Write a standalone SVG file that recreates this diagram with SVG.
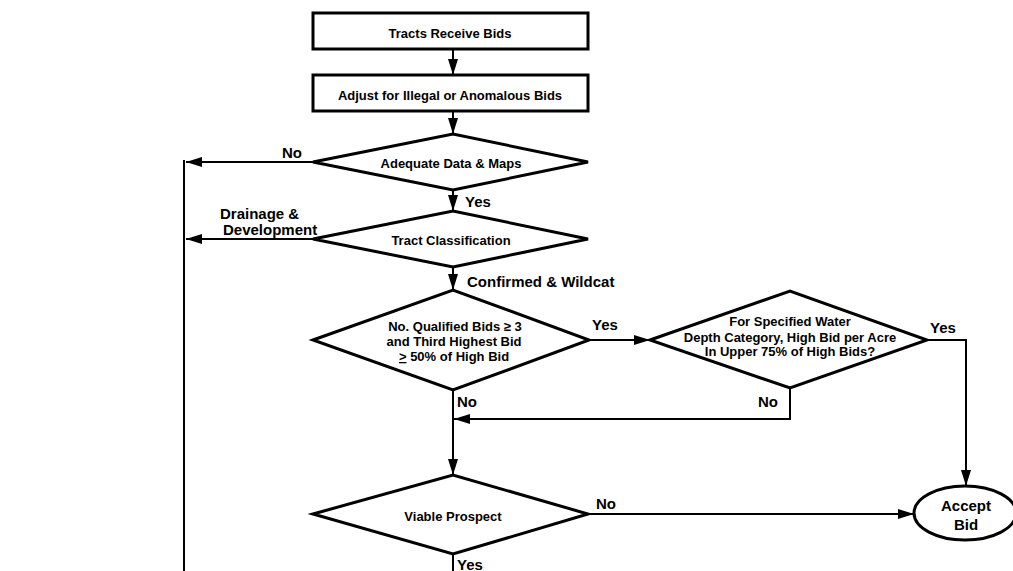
<svg xmlns="http://www.w3.org/2000/svg" width="1013" height="571" viewBox="0 0 1013 571">
<style>
.shape{fill:#fff;stroke:#000;stroke-width:3;stroke-linejoin:miter}
.conn{fill:none;stroke:#000;stroke-width:2}
.t{font-family:"Liberation Sans",Arial,sans-serif;font-weight:bold;font-size:13px;fill:#000;text-anchor:middle}
.lbl{font-family:"Liberation Sans",Arial,sans-serif;font-weight:bold;font-size:15px;fill:#000}
.big{font-family:"Liberation Sans",Arial,sans-serif;font-weight:bold;font-size:15px;fill:#000;text-anchor:middle}
</style>
<defs>
<marker id="ah" viewBox="0 0 16 10" refX="16" refY="5" markerWidth="16" markerHeight="10" markerUnits="userSpaceOnUse" orient="auto">
<path d="M0,0 L16,5 L0,10 Z" fill="#000"/>
</marker>
</defs>
<rect width="1013" height="571" fill="#fff"/>
<g id="connectors">
<line class="conn" x1="453" y1="49" x2="453" y2="75" marker-end="url(#ah)"/>
<line class="conn" x1="453" y1="111" x2="453" y2="134" marker-end="url(#ah)"/>
<line class="conn" x1="453" y1="190" x2="453" y2="211" marker-end="url(#ah)"/>
<line class="conn" x1="453" y1="267" x2="453" y2="290" marker-end="url(#ah)"/>
<line class="conn" x1="313" y1="162" x2="186" y2="162" marker-end="url(#ah)"/>
<line class="conn" x1="313" y1="239" x2="186" y2="239" marker-end="url(#ah)"/>
<line class="conn" x1="184" y1="160" x2="184" y2="571"/>
<line class="conn" x1="589" y1="340" x2="650" y2="340" marker-end="url(#ah)"/>
<polyline class="conn" points="927,340 966,340 966,486" marker-end="url(#ah)"/>
<polyline class="conn" points="790,388 790,419 454,419" marker-end="url(#ah)"/>
<line class="conn" x1="453" y1="390" x2="453" y2="475" marker-end="url(#ah)"/>
<line class="conn" x1="589" y1="514" x2="914" y2="514" marker-end="url(#ah)"/>
<line class="conn" x1="453" y1="554" x2="453" y2="571"/>
<text class="lbl" x="282" y="158">No</text>
<text class="lbl" x="465" y="207">Yes</text>
<text class="lbl" x="220" y="219">Drainage &amp;</text>
<text class="lbl" x="223" y="235">Development</text>
<text class="lbl" x="467" y="287">Confirmed &amp; Wildcat</text>
<text class="lbl" x="592" y="330">Yes</text>
<text class="lbl" x="930" y="333">Yes</text>
<text class="lbl" x="758" y="407">No</text>
<text class="lbl" x="457" y="407">No</text>
<text class="lbl" x="596" y="509">No</text>
<text class="lbl" x="457" y="570">Yes</text>
</g>
<g id="n1">
<rect class="shape" x="313" y="13" width="275" height="36"/>
<text class="t" x="450" y="38">Tracts Receive Bids</text>
</g>
<g id="n2">
<rect class="shape" x="313" y="75" width="275" height="36"/>
<text class="t" x="450" y="100">Adjust for Illegal or Anomalous Bids</text>
</g>
<g id="n3">
<polygon class="shape" points="313,162 453,134 588,162 453,190"/>
<text class="t" x="451" y="168">Adequate Data &amp; Maps</text>
</g>
<g id="n4">
<polygon class="shape" points="313,239 453,211 588,239 453,267"/>
<text class="t" x="451" y="245">Tract Classification</text>
</g>
<g id="n5">
<polygon class="shape" points="313,340 453,290 589,340 453,390"/>
<text class="t" x="455" y="331">No. Qualified Bids ≥ 3</text>
<text class="t" x="454" y="346">and Third Highest Bid</text>
<text class="t" x="454" y="361"><tspan text-decoration="underline">&gt;</tspan> 50% of High Bid</text>
</g>
<g id="n6">
<polygon class="shape" points="650,340 790,291 927,340 790,388"/>
<text class="t" x="790" y="326">For Specified Water</text>
<text class="t" x="790" y="342">Depth Category, High Bid per Acre</text>
<text class="t" x="790" y="356">In Upper 75% of High Bids?</text>
</g>
<g id="n7">
<polygon class="shape" points="313,514 453,475 588,514 453,554"/>
<text class="t" x="453" y="521">Viable Prospect</text>
</g>
<g id="n8">
<ellipse class="shape" cx="965" cy="513" rx="51" ry="27"/>
<text class="big" x="966" y="511">Accept</text>
<text class="big" x="966" y="530">Bid</text>
</g>
</svg>
